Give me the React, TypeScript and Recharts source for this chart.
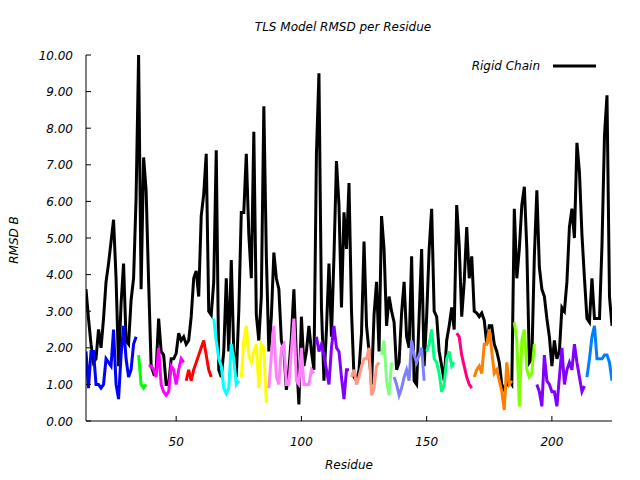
import React from 'react';
import { LineChart, Line, XAxis, YAxis, Customized } from 'recharts';

const FIRST_RESIDUE = 14;

// Rigid chain RMSD B, one value per residue from 14 to 224
const rigidChain = [
  3.6, 2.8, 2.1, 1.6, 1.7, 2.5, 2.0, 2.8, 3.8, 4.3,
  4.9, 5.5, 3.9, 1.5, 3.2, 4.3, 2.2, 2.1, 3.3, 3.9,
  6.1, 10.0, 3.6, 7.2, 6.3, 3.8, 1.5, 1.3, 1.4, 2.8,
  1.9, 1.8, 1.0, 1.0, 1.7, 1.7, 1.85, 2.4, 2.2, 2.3,
  2.1, 2.2, 2.85, 3.9, 4.1, 3.4, 5.6, 6.2, 7.3, 3.0,
  2.9, 3.8, 7.4, 1.4, 1.2, 1.9, 3.9, 1.9, 4.4, 1.9,
  1.2, 3.0, 5.7, 5.7, 7.3, 5.1, 3.9, 7.9, 2.9, 2.2,
  3.4, 8.6, 4.5, 1.9, 2.85, 4.6, 3.9, 3.6, 2.2, 1.9,
  0.85, 1.4, 2.3, 3.6, 1.75, 0.45, 2.85, 1.5, 1.9, 2.6,
  1.9, 1.4, 7.3, 9.5, 3.1, 1.1, 2.5, 4.3, 2.3, 4.5,
  7.1, 5.9, 3.1, 5.7, 4.7, 6.5, 3.0, 1.2, 1.1, 1.4,
  2.4, 4.9, 2.6, 1.9, 1.0, 2.9, 3.8, 1.9, 5.6, 4.7,
  2.6, 3.4, 3.0, 2.7, 1.4, 1.6, 2.95, 3.8, 2.3, 2.0,
  4.5, 1.1, 1.0, 2.85, 4.7, 1.5, 2.85, 4.7, 5.8, 3.0,
  2.85, 1.9, 1.5, 1.1, 2.2, 2.6, 3.1, 2.5, 5.9, 4.8,
  2.85, 3.8, 5.3, 3.9, 4.5, 3.0, 2.95, 2.85, 2.95, 2.75,
  2.1, 2.6, 2.6, 2.1, 1.9, 1.6, 1.0, 0.85, 1.0, 1.1,
  1.0, 5.8, 3.9, 4.7, 5.9, 6.4, 4.7, 1.6, 1.7, 4.5,
  6.3, 4.2, 3.6, 3.4, 2.8, 2.3, 1.5, 2.2, 1.7, 1.9,
  3.1, 3.0, 3.8, 5.3, 5.8, 5.0, 7.6, 6.8, 5.1, 3.9,
  2.8, 2.7, 3.9, 2.8, 2.8, 2.8, 4.8, 7.8, 8.9, 3.4,
  2.6,
];

// TLS group values (each starts at the residue in tlsStarts)
const tls1 = [1.9, 0.9, 1.9, 1.9, 1.0, 1.0, 0.9, 1.0, 1.7, 1.6, 1.5, 2.5, 1.0, 0.6, 1.8, 2.6, 1.7, 1.2, 1.4, 2.1, 2.3];
const tls2 = [1.8, 1.0, 0.9, 1.0];
const tls3 = [1.5, 1.5, 1.4, 1.2, 2.0, 1.0, 0.8, 0.7, 0.8, 1.5, 1.4, 1.0, 1.4, 1.7, 1.6];
const tls4 = [1.1, 1.4, 1.1, 1.4, 1.6, 1.8, 2.0, 2.2, 1.8, 1.4, 1.2];
const tls5 = [2.8, 2.2, 1.7, 1.5, 0.9, 0.75, 0.9, 2.1, 1.7, 1.0, 1.1];
const tls6 = [1.2, 2.2, 2.6, 1.8, 1.6, 1.9, 2.1, 0.9, 2.1, 2.0, 0.5];
const tls7 = [0.9, 1.8, 2.6, 1.2, 1.0, 2.0, 2.1, 1.0, 1.0, 1.9, 2.8, 1.1, 1.0, 2.0, 1.0, 1.0, 1.0, 1.4, 1.3];
const tls8 = [2.3, 1.9, 2.1, 1.8, 1.4, 1.0, 2.0, 2.6, 2.0, 1.9, 1.2, 0.6, 1.4, 1.4];
const tls9 = [1.2, 1.4, 1.0, 1.2, 1.5, 1.7, 1.7, 2.0, 0.7, 0.9, 1.5, 1.6];
const tls10 = [1.8, 2.2, 1.1, 0.7, 1.6];
const tls11 = [1.2, 1.0, 0.7, 0.9, 1.2, 1.4, 1.1, 2.2, 1.8, 1.6, 1.8, 2.0, 1.1];
const tls12 = [1.9, 2.1, 2.5, 1.7, 1.6, 1.3, 0.8, 1.0, 1.7, 1.9, 1.5, 1.6];
const tls13 = [2.4, 2.3, 1.8, 1.5, 1.2, 1.0, 0.9];
const tls14 = [1.2, 1.4, 1.5, 1.3, 2.1, 2.1, 2.5, 1.9, 1.3, 1.4, 1.1, 0.8, 0.3, 1.6, 1.0, 1.1];
const tls15 = [2.7, 2.2, 0.4, 2.2, 2.5, 1.4, 1.2, 1.3, 2.1];
const tls16 = [1.0, 0.8, 0.4, 1.8, 1.1, 1.0, 0.8, 0.8, 0.4, 1.2, 2.0, 1.0, 1.4, 1.6, 1.4, 2.1, 1.6, 1.2, 0.8, 0.95];
const tls17 = [1.2, 1.7, 2.3, 2.6, 1.7, 1.7, 1.7, 1.8, 1.8, 1.6, 1.1];

const tlsGroups = [tls1, tls2, tls3, tls4, tls5, tls6, tls7, tls8, tls9, tls10, tls11, tls12, tls13, tls14, tls15, tls16, tls17];
const tlsStarts = [14, 35, 39, 54, 65, 76, 87, 106, 120, 132, 137, 150, 162, 169, 185, 194, 214];

const tlsColors = [
  '#0000ff', '#00ff00', '#ff00ff', '#ff0000', '#00ffff', '#ffff00', '#ff80ff', '#8000ff',
  '#ff9980', '#80ff80', '#8080ff', '#00ff80', '#ff0080', '#ff8000', '#80ff00', '#8000ff', '#0080ff',
];

const xTicks = [50, 100, 150, 200];
const yTicks = [0, 1, 2, 3, 4, 5, 6, 7, 8, 9, 10];

const data = rigidChain.map((v, i) => {
  const res = FIRST_RESIDUE + i;
  const row: Record<string, number> = { res, rigid: v };
  tlsGroups.forEach((g, k) => {
    const j = res - tlsStarts[k];
    if (j >= 0 && j < g.length) row['g' + k] = g[j];
  });
  return row;
});

const FONT = "'DejaVu Sans', sans-serif";
const textStyle = { fontFamily: FONT, fontSize: 12, fontStyle: 'italic' as const, fill: '#000' };
const TICK = 5;

const BottomTick = (p: any) => (
  <g>
    <line x1={p.x} x2={p.x} y1={p.y} y2={p.y - TICK} stroke="#000" />
    <text x={p.x} y={p.y + 25} textAnchor="middle" style={textStyle}>{p.payload.value}</text>
  </g>
);
const TopTick = (p: any) => (
  <line x1={p.x} x2={p.x} y1={p.y} y2={p.y + TICK} stroke="#000" />
);
const LeftTick = (p: any) => (
  <g>
    <line x1={p.x} x2={p.x + TICK} y1={p.y} y2={p.y} stroke="#000" />
    <text x={p.x - 13} y={p.y + 4.5} textAnchor="end" style={textStyle}>{Number(p.payload.value).toFixed(2)}</text>
  </g>
);
const RightTick = (p: any) => (
  <line x1={p.x} x2={p.x - TICK} y1={p.y} y2={p.y} stroke="#000" />
);

const Decorations = () => (
  <g>
    <text x={343} y={31} textAnchor="middle" style={textStyle}>TLS Model RMSD per Residue</text>
    <text x={349} y={469} textAnchor="middle" style={textStyle}>Residue</text>
    <text x={18} y={240} textAnchor="middle" transform="rotate(-90, 18, 240)" style={textStyle}>RMSD B</text>
    <text x={540} y={70} textAnchor="end" style={textStyle}>Rigid Chain</text>
    <line x1={553} x2={596} y1={66} y2={66} stroke="#000" strokeWidth={3} />
  </g>
);

export default function App() {
  return (
    <div style={{ position: 'absolute', left: 0, top: 0, width: 640, height: 480, background: '#fff' }}>
      <LineChart width={640} height={480} data={data} margin={{ top: 55, right: 28, bottom: 0, left: 0 }}>
        <XAxis xAxisId="b" dataKey="res" type="number" domain={[14, 224]} ticks={xTicks} allowDataOverflow
          height={59} tickSize={0} tickMargin={0} tickLine={false} axisLine={{ stroke: '#000' }} tick={BottomTick} />
        <XAxis xAxisId="t" orientation="top" dataKey="res" type="number" domain={[14, 224]} ticks={xTicks} allowDataOverflow
          height={0} tickSize={0} tickMargin={0} tickLine={false} axisLine={{ stroke: '#000' }} tick={TopTick} />
        <YAxis yAxisId="l" type="number" domain={[0, 10]} ticks={yTicks} allowDataOverflow width={86}
          tickSize={0} tickMargin={0} tickLine={false} axisLine={{ stroke: '#000' }} tick={LeftTick} />
        <YAxis yAxisId="r" orientation="right" type="number" domain={[0, 10]} ticks={yTicks} allowDataOverflow width={0}
          tickSize={0} tickMargin={0} tickLine={false} axisLine={{ stroke: '#000' }} tick={RightTick} />
        <Line xAxisId="b" yAxisId="l" type="linear" dataKey="rigid" stroke="#000" strokeWidth={3} dot={false}
          isAnimationActive={false} />
        {tlsGroups.map((_, k) => (
          <Line key={k} xAxisId="b" yAxisId="l" type="linear" dataKey={'g' + k} stroke={tlsColors[k]} strokeWidth={3}
            dot={false} connectNulls={false} isAnimationActive={false} />
        ))}
        <Customized component={Decorations} />
      </LineChart>
    </div>
  );
}
